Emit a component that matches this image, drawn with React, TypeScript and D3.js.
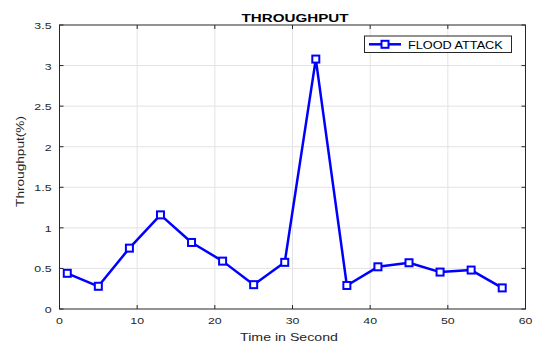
import React from "react";
import { scaleLinear, line } from "d3";

const times = [1, 5, 9, 13, 17, 21, 25, 29, 33, 37, 41, 45, 49, 53, 57];
const throughput = [0.44, 0.28, 0.75, 1.16, 0.82, 0.59, 0.3, 0.575, 3.08, 0.29, 0.52, 0.57, 0.455, 0.48, 0.26];
const xTicks = [0, 10, 20, 30, 40, 50, 60];
const yTicks = [0, 0.5, 1, 1.5, 2, 2.5, 3, 3.5];
const seriesName = "FLOOD ATTACK";

const W = 538;
const H = 345;
const left = 59.5;
const right = 525.5;
const top = 25;
const bottom = 309;
const font = "'Liberation Sans', Arial, sans-serif";
const blue = "#0000ff";

// text stretched horizontally, like the exported figure
function Label({ x, y, sx = 1.3, size, anchor = "start", weight = "normal", fill = "#262626", rotate = 0, children }: any) {
  return (
    <text
      transform={`translate(${x},${y}) rotate(${rotate}) scale(${sx},1)`}
      textAnchor={anchor}
      fontFamily={font}
      fontSize={size}
      fontWeight={weight}
      fill={fill}
    >
      {children}
    </text>
  );
}

export default function App() {
  const x = scaleLinear().domain([0, 60]).range([left, right]);
  const y = scaleLinear().domain([0, 3.5]).range([bottom, top]);
  const path = line<number>()
    .x((d, i) => x(times[i]))
    .y((d) => y(d))(throughput);

  return (
    <svg width={W} height={H} style={{ position: "absolute", left: 0, top: 0, background: "#fff" }}>
      {/* grid */}
      {xTicks.slice(1, -1).map((t) => (
        <line key={"gx" + t} x1={x(t)} x2={x(t)} y1={top} y2={bottom} stroke="#e3e3e3" strokeWidth={1} />
      ))}
      {yTicks.slice(1, -1).map((t) => (
        <line key={"gy" + t} x1={left} x2={right} y1={y(t)} y2={y(t)} stroke="#e3e3e3" strokeWidth={1} />
      ))}
      {/* ticks */}
      {xTicks.map((t) => (
        <g key={"tx" + t}>
          <line x1={x(t)} x2={x(t)} y1={bottom} y2={bottom - 4} stroke="#262626" />
          <line x1={x(t)} x2={x(t)} y1={top} y2={top + 4} stroke="#262626" />
          <Label x={x(t)} y={bottom + 15} size={9.5} anchor="middle">
            {t}
          </Label>
        </g>
      ))}
      {yTicks.map((t) => (
        <g key={"ty" + t}>
          <line x1={left} x2={left + 4} y1={y(t)} y2={y(t)} stroke="#262626" />
          <line x1={right} x2={right - 4} y1={y(t)} y2={y(t)} stroke="#262626" />
          <Label x={left - 8} y={y(t) + 4} size={9.5} anchor="end">
            {t}
          </Label>
        </g>
      ))}
      <rect x={left} y={top} width={right - left} height={bottom - top} fill="none" stroke="#262626" strokeWidth={1} />
      {/* series */}
      <path d={path || ""} fill="none" stroke={blue} strokeWidth={2.5} strokeLinejoin="round" />
      {throughput.map((d, i) => (
        <rect key={i} x={x(times[i]) - 3.5} y={y(d) - 3.5} width={7} height={7} fill="#fff" stroke={blue} strokeWidth={2} />
      ))}
      {/* legend */}
      <rect x={364.5} y={36} width={147} height={16.5} fill="#fff" stroke="#262626" strokeWidth={1} />
      <line x1={369} x2={401} y1={44.3} y2={44.3} stroke={blue} strokeWidth={2.5} />
      <rect x={381.5} y={40.8} width={7} height={7} fill="#fff" stroke={blue} strokeWidth={2} />
      <Label x={408} y={48.7} size={10} sx={1.27} fill="#000">
        {seriesName}
      </Label>
      {/* titles */}
      <Label x={295} y={21.5} size={11} sx={1.38} anchor="middle" weight="bold" fill="#000">
        THROUGHPUT
      </Label>
      <Label x={289} y={340.7} size={10.5} sx={1.35} anchor="middle">
        Time in Second
      </Label>
      <Label x={24} y={161.5} size={11} sx={1.24} anchor="middle" rotate={-90}>
        Throughput(%)
      </Label>
    </svg>
  );
}
